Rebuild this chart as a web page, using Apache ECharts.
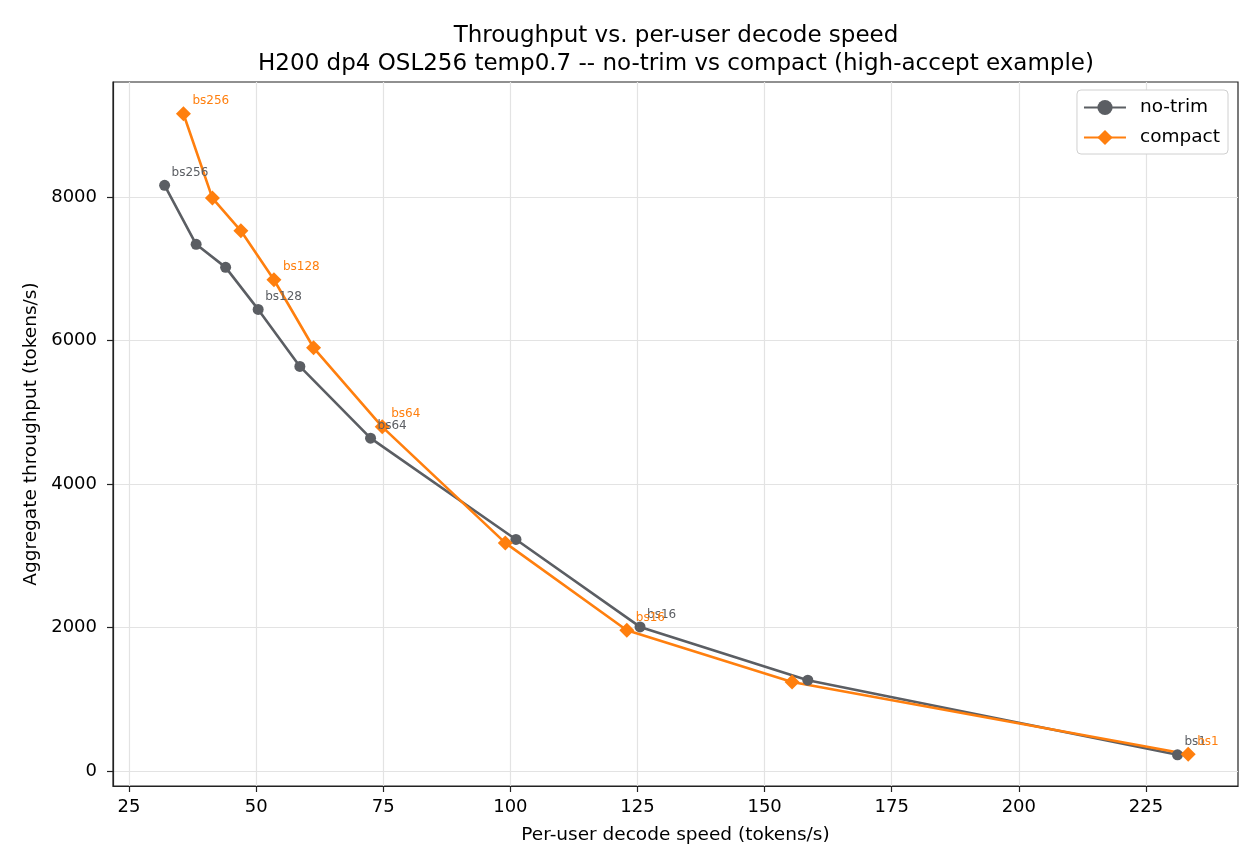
<!DOCTYPE html>
<html>
<head>
<meta charset="utf-8">
<script src="https://cdn.jsdelivr.net/npm/echarts@6/dist/echarts.min.js"></script>
<style>
  html, body { margin: 0; padding: 0; background: #fff; }
  #main { width: 1260px; height: 868px; }
</style>
</head>
<body>
<div id="main"></div>
<script>
// per-user decode speed (x) and aggregate throughput (y)
const noTrimSpeed = [32.0, 38.2, 44.0, 50.4, 58.6, 72.5, 101.1, 125.5, 158.5, 231.2];
const noTrimThroughput = [8163, 7341, 7020, 6434, 5639, 4639, 3227, 2008, 1265, 225];
const noTrimLabels = ['bs256', '', '', 'bs128', '', 'bs64', '', 'bs16', '', 'bs1'];

const compactSpeed = [35.7, 41.4, 47.0, 53.5, 61.3, 74.8, 99.0, 122.9, 155.4, 233.3];
const compactThroughput = [9162, 7986, 7530, 6847, 5899, 4797, 3179, 1962, 1241, 233];
const compactLabels = ['bs256', '', '', 'bs128', '', 'bs64', '', 'bs16', '', 'bs1'];

const xTicks = [25, 50, 75, 100, 125, 150, 175, 200, 225];
const yTicks = [0, 2000, 4000, 6000, 8000];

const FONT = 'DejaVu Sans';
const GRAY = '#5b5e63';
const ORANGE = '#ff7f0e';

function pairs(xs, ys) {
    return xs.map((x, i) => [x, ys[i]]);
}

function makeSeries(name, xs, ys, labels, color, symbol, size) {
    return {
        name: name,
        type: 'line',
        data: pairs(xs, ys),
        symbol: symbol,
        symbolSize: size,
        lineStyle: { color: color, width: 2.6 },
        itemStyle: { color: color },
        label: {
            show: true,
            position: 'right',
            distance: 0,
            offset: [1.5, -12.5],
            color: color,
            fontFamily: FONT,
            fontSize: 12,
            formatter: p => labels[p.dataIndex]
        },
        emphasis: { disabled: true },
        animation: false
    };
}

const chart = echarts.init(document.getElementById('main'), null, { renderer: 'canvas' });

chart.setOption({
    backgroundColor: '#fff',
    textStyle: { fontFamily: FONT },
    title: {
        text: 'Throughput vs. per-user decode speed\nH200 dp4 OSL256 temp0.7 -- no-trim vs compact (high-accept example)',
        left: 671,
        top: 17,
        textAlign: 'center',
        textStyle: { fontFamily: FONT, fontSize: 23, fontWeight: 'normal', color: '#000', lineHeight: 28 }
    },
    legend: {
        right: 32,
        top: 90,
        orient: 'vertical',
        itemWidth: 42,
        itemHeight: 19,
        itemGap: 11,
        padding: [8, 8, 7, 6],
        borderColor: '#d0d0d0',
        borderWidth: 1,
        borderRadius: 4,
        backgroundColor: '#fff',
        textStyle: { fontFamily: FONT, fontSize: 18.5, color: '#000', padding: [0, 0, 0, 9] },
        data: ['no-trim', 'compact']
    },
    grid: { left: 113, right: 22, top: 82, bottom: 82, show: true, borderColor: '#222', borderWidth: 1.2 },
    xAxis: {
        type: 'value',
        min: 21.85,
        max: 243.1,
        name: 'Per-user decode speed (tokens/s)',
        nameLocation: 'middle',
        nameGap: 40,
        nameTextStyle: { fontFamily: FONT, fontSize: 18.5, color: '#000' },
        axisLine: { show: true, onZero: false, lineStyle: { color: '#222', width: 1.2 } },
        axisTick: { show: true, length: 6, customValues: xTicks, lineStyle: { color: '#222', width: 1.2 } },
        axisLabel: { customValues: xTicks, margin: 12, fontFamily: FONT, fontSize: 18, color: '#000' },
        splitLine: { show: true, lineStyle: { color: '#e3e3e3', width: 1.2 } }
    },
    yAxis: {
        type: 'value',
        min: -210,
        max: 9604,
        name: 'Aggregate throughput (tokens/s)',
        nameLocation: 'middle',
        nameGap: 70,
        nameTextStyle: { fontFamily: FONT, fontSize: 18.5, color: '#000' },
        axisLine: { show: true, onZero: false, lineStyle: { color: '#222', width: 1.2 } },
        axisTick: { show: true, length: 6, customValues: yTicks, lineStyle: { color: '#222', width: 1.2 } },
        axisLabel: {
            customValues: yTicks, margin: 16, fontFamily: FONT, fontSize: 18, color: '#000',
            formatter: v => String(v)
        },
        splitLine: { show: true, lineStyle: { color: '#e3e3e3', width: 1.2 } }
    },
    series: [
        makeSeries('no-trim', noTrimSpeed, noTrimThroughput, noTrimLabels, GRAY, 'circle', 11),
        makeSeries('compact', compactSpeed, compactThroughput, compactLabels, ORANGE, 'diamond', 15)
    ]
});
</script>
</body>
</html>
